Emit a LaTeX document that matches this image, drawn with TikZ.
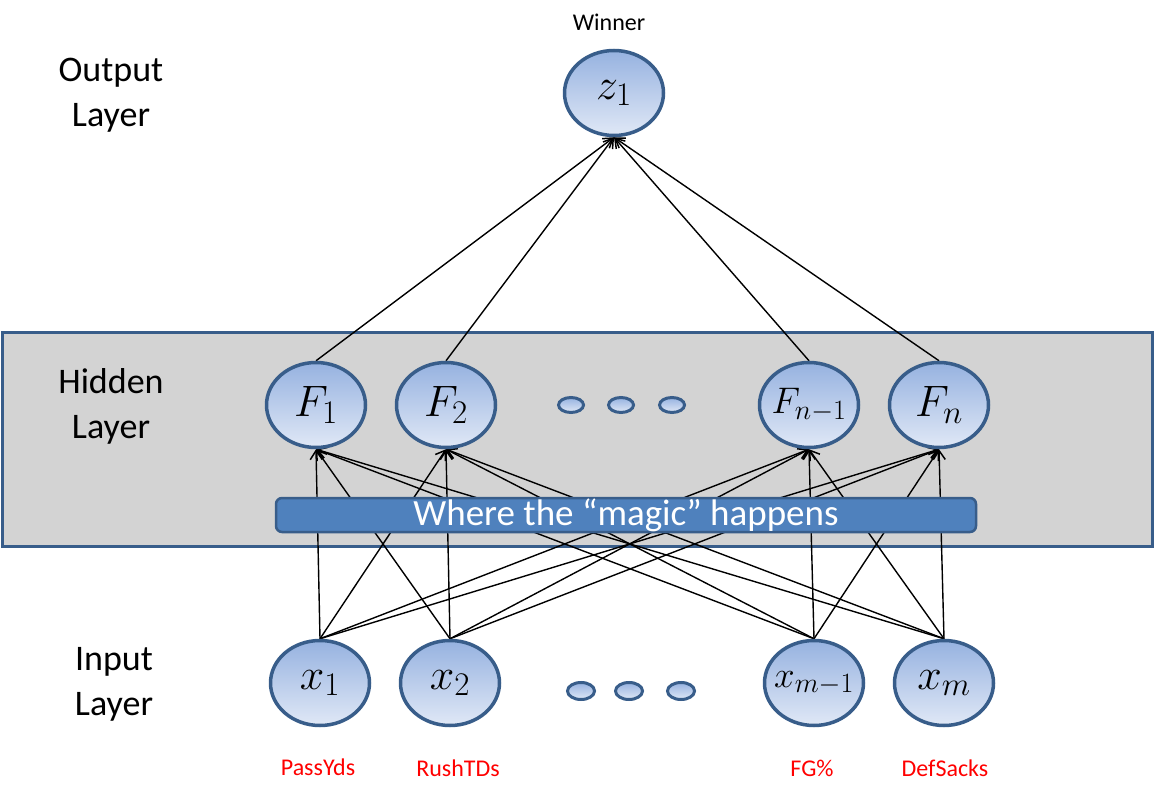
\RequirePackage{fix-cm}
\documentclass[tikz,border=0pt]{standalone}
\usepackage{fontspec}
\setmainfont{Carlito}
\usetikzlibrary{shapes.geometric,arrows.meta}
\DeclareMathSizes{44}{44}{33}{24}
\DeclareMathSizes{37}{37}{28}{20}
\definecolor{nborder}{RGB}{56,93,138}
\definecolor{ntop}{RGB}{150,178,224}
\definecolor{nbot}{RGB}{224,232,246}
\definecolor{panelgray}{RGB}{211,211,211}
\definecolor{bannerblue}{RGB}{79,129,189}
\definecolor{bannerborder}{RGB}{56,93,138}
\pgfdeclarelayer{back}
\pgfdeclarelayer{edges}
\pgfsetlayers{back,edges,main}
\tikzset{
  neuron/.style={ellipse, draw=nborder, line width=3.5pt, top color=ntop, bottom color=nbot,
    minimum width=99pt, minimum height=85pt, inner sep=0pt, font=\fontsize{44}{48}\selectfont},
  smallneuron/.style={neuron, font=\fontsize{37}{40}\selectfont},
  dotnode/.style={ellipse, draw=nborder, line width=3pt, top color=ntop, bottom color=nbot,
    minimum width=25pt, minimum height=15pt, inner sep=0pt},
  arr/.style={-{Straight Barb[length=9pt,width=12pt,line width=1.5pt]}, line width=1.4pt, black},
  layerlabel/.style={align=center, font=\fontsize{36}{45}\selectfont},
  featlabel/.style={text=red, font=\fontsize{24}{28}\selectfont},
  banner/.style={draw=bannerborder, line width=2.5pt, fill=bannerblue, rounded corners=6pt,
    minimum width=700pt, minimum height=34pt, inner sep=0pt, text=white,
    font=\fontsize{37}{40}\selectfont}
}
\begin{document}
\begin{tikzpicture}[x=1pt,y=-1pt]
\useasboundingbox (0,0) rectangle (1154,799);

% hidden-layer panel
\begin{pgfonlayer}{back}
\draw[draw=nborder, line width=3pt, fill=panelgray] (2,333) rectangle (1152,546);
\end{pgfonlayer}

% layer labels
\node[layerlabel] (lout) at (111,95) {Output\\Layer};
\node[layerlabel] (lhid) at (111,406) {Hidden\\Layer};
\node[layerlabel] (lin)  at (114,684) {Input\\Layer};

% output
\node[font=\fontsize{24}{28}\selectfont] (win) at (609,22) {Winner};
\node[neuron] (z1) at (614,93) {$z_1$};

% hidden
\node[neuron] (F1) at (316,405) {$F_1$};
\node[neuron] (F2) at (446,405) {$F_2$};
\node[smallneuron] (Fn1) at (809,405) {\makebox[50pt][c]{$F_{n-1}$}};
\node[neuron] (Fn) at (939,405) {$F_n$};
\node[dotnode] (hd1) at (571,405) {};
\node[dotnode] (hd2) at (621,405) {};
\node[dotnode] (hd3) at (672,405) {};

% input
\node[neuron] (x1) at (320,683) {$x_1$};
\node[neuron] (x2) at (450,683) {$x_2$};
\node[smallneuron] (xm1) at (814,683) {\makebox[50pt][c]{$x_{m-1}$}};
\node[neuron] (xm) at (944,683) {$x_m$};
\node[dotnode, minimum width=27pt, minimum height=17pt] (id1) at (581,691) {};
\node[dotnode, minimum width=27pt, minimum height=17pt] (id2) at (629,691) {};
\node[dotnode, minimum width=27pt, minimum height=17pt] (id3) at (681,691) {};

% feature labels
\node[featlabel] (p1) at (318,767) {PassYds};
\node[featlabel] (p2) at (458,768) {RushTDs};
\node[featlabel] (p3) at (812,768) {FG\%};
\node[featlabel] (p4) at (945,768) {DefSacks};

% banner
\node[banner] (magic) at (626,515) {Where the “magic” happens};

% connectors
\begin{pgfonlayer}{edges}
\foreach \i in {x1,x2,xm1,xm}{
  \foreach \j in {F1,F2,Fn1,Fn}{
    \draw[arr] (\i.north) -- (\j.south);
  }
}
\foreach \j in {F1,F2,Fn1,Fn}{
  \draw[arr] (\j.north) -- (z1.south);
}
\end{pgfonlayer}
\end{tikzpicture}
\end{document}
